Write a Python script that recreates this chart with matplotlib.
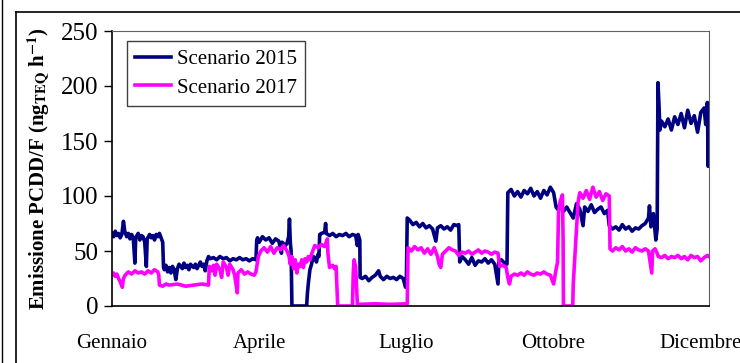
#!/usr/bin/env python3
import matplotlib as mpl
mpl.use("Agg")
import matplotlib.pyplot as plt
from matplotlib.lines import Line2D

mpl.rcParams.update({
    "font.family": "serif",
    "font.serif": ["Liberation Serif", "DejaVu Serif"],
    "mathtext.fontset": "stix",
    "font.size": 15,
})

# Data (day of year, emission ng TEQ/h)
days_2015 = [0, 1, 2, 3, 4, 5, 6, 7, 7.8, 9, 10, 11, 12, 13, 14, 14.5, 16, 17, 18, 19, 20, 21, 21.5,
             23, 24, 25, 26, 27, 28, 29, 30, 31, 31.5,
             32, 33, 34, 35, 36, 37, 38, 39, 40, 41, 42, 43, 44, 45, 46, 47, 48, 49, 50, 51, 52,
             53, 54, 55, 56, 57, 58,
             59, 60, 62, 64, 66, 68, 70, 72, 74, 76, 78, 80, 82, 84, 86, 88, 88.5,
             89, 90, 92, 94, 96, 98, 100, 102, 103.6, 104, 106, 107, 108, 108.5, 109, 109.5, 110,
             119, 119.5, 120, 121, 122, 123, 124, 125, 126, 126.5, 127, 128, 130, 130.6, 131, 133,
             135, 137, 139, 141, 143, 145, 147, 149, 150, 150.5, 151.5, 151.7,
             153, 155, 157, 159, 161, 163, 164, 166, 168, 170, 172, 174, 176, 178, 179.5, 180,
             180.5, 182, 184, 186, 188, 190, 192, 194, 196, 198, 199, 201, 203, 205, 207, 209,
             211, 212, 212.6,
             214, 216, 218, 220, 222, 224, 226, 228, 230, 232, 234, 236, 236.5, 238, 240, 241.5,
             242, 244, 246, 248, 250, 252, 254, 256, 258, 260, 262, 264, 266, 268, 270, 271.5,
             272.4, 274, 276, 278, 280, 282, 284, 286, 288, 289, 291, 293, 295, 297, 299, 301,
             303, 304, 306, 308, 310, 312, 314, 316, 318, 320, 322, 324, 326, 328, 328.6, 329.5,
             331, 332.5, 333.3, 333.8, 334.5, 335, 336, 338, 340, 342, 344, 346, 348, 350, 352,
             354, 356, 358, 360, 362, 363, 364, 364.5, 365]
vals_2015 = [66, 63, 68, 64, 66, 62, 65, 77, 68, 63, 66, 61, 65, 62, 39, 62, 66, 60, 64, 63, 58, 36, 61,
             65, 62, 64, 60, 65, 63, 66, 62, 58, 35,
             33, 37, 31, 35, 30, 36, 33, 24, 34, 38, 36, 34, 39, 35, 37, 33, 38, 36, 35, 38, 34,
             37, 40, 36, 38, 32, 41,
             45, 43, 44, 42, 45, 43, 44, 41, 43, 42, 44, 42, 43, 41, 43, 42, 60,
             62, 58, 63, 60, 62, 57, 61, 59, 48, 58, 55, 57, 63, 79, 58, 50, 0,
             0, 12, 20, 33, 38, 45, 44, 40, 47, 45, 65, 66, 67, 75, 66, 64,
             66, 63, 65, 64, 66, 63, 65, 64, 55, 65, 60, 26,
             25, 27, 23, 26, 28, 32, 27, 24, 27, 25, 26, 24, 27, 25, 17, 26,
             80, 78, 74, 76, 72, 75, 71, 73, 70, 59, 71, 73, 70, 72, 69, 74,
             73, 74, 40,
             45, 42, 38, 44, 37, 41, 40, 43, 39, 42, 38, 20, 40, 42, 39, 38,
             103, 106, 100, 104, 99, 105, 102, 107, 100, 104, 98, 105, 101, 108, 103, 90,
             88, 92, 86, 90, 85, 80, 93, 88, 73, 90, 86, 92, 85, 88, 90, 84,
             87, 73, 70, 72, 69, 74, 70, 72, 68, 71, 70, 73, 75, 80, 91, 72,
             84, 60, 70, 203, 180, 160, 168, 163, 170, 160, 172, 165, 175, 162, 178,
             166, 173, 158, 176, 180, 165, 185, 127, 170]

days_2017 = [0, 1, 2, 3, 4, 5, 6.3, 7, 8, 10, 12, 14, 16, 18, 20, 22, 24, 26, 28, 28.6,
             29, 31, 33, 35, 40, 45, 50, 55, 59,
             59.5, 61, 62, 63, 64, 66, 67, 68, 70, 71, 72, 74, 75, 76.6, 77, 79, 81, 83, 85, 87, 88,
             89.5, 91, 93, 95, 97, 99, 101, 103, 105, 107, 108.3,
             109, 110, 111, 112, 113, 114, 115, 116, 117, 118, 119, 120, 121, 122,
             124, 126, 128, 130, 131.7, 132, 133, 135, 136, 137, 138,
             147, 147.5, 148, 149, 150, 151, 160, 170, 180.5,
             181, 183, 185, 187, 189, 191, 193, 195, 197, 199, 200, 201, 202, 204, 206, 208, 210,
             212, 214, 216, 218, 220, 222, 224, 226, 228, 230, 232, 234, 236,
             237, 239, 241, 242, 243, 244, 246, 248, 250, 252, 254, 256, 258, 260, 262, 264, 266,
             268, 270, 271, 272.4, 273, 274, 275.4, 275.8, 276,
             281.7, 282, 283, 284, 285, 286, 288, 290, 292, 294, 296, 298, 300, 302, 304,
             304.5, 306, 308, 310, 312, 314, 316, 318, 320, 322, 324, 326, 328, 330, 330.5, 332,
             333.3, 334, 336, 338, 340, 342, 344, 346, 348, 350, 352, 354, 356, 358, 360, 362,
             364, 365]
vals_2017 = [28, 30, 27, 29, 25, 22, 17, 25, 28, 31, 29, 32, 30, 31, 29, 32, 30, 33, 31, 28,
             19, 18, 20, 19, 20, 18, 19, 20, 19,
             36, 32, 37, 28, 38, 33, 26, 40, 35, 28, 38, 33, 28, 12, 30, 33, 29, 31, 29, 28, 31,
             45, 50, 53, 49, 54, 48, 53, 51, 55, 50, 45,
             38, 45, 34, 42, 30, 38, 36, 42, 35, 43, 40, 45, 42, 47,
             55, 53, 56, 54, 61, 48, 35, 37, 34, 36, 0,
             0, 30, 42, 35, 2, 1.5, 2, 1.5, 2,
             53, 50, 54, 51, 53, 48, 52, 47, 53, 45, 38, 35, 47, 50, 53, 51, 50,
             46, 49, 48, 50, 47, 49, 51, 48, 50, 49, 47, 49, 48,
             36, 37, 35, 26, 20, 27, 29, 28, 30, 28, 31, 29, 28, 30, 29, 31, 29,
             28, 20, 29, 40, 85, 95, 101, 60, 0,
             0, 20, 45, 70, 95, 103, 98, 105, 97, 108, 99, 104, 96, 102, 100,
             52, 50, 53, 51, 54, 50, 52, 49, 53, 51, 50, 52, 50, 30, 50, 52,
             48, 45, 44, 46, 43, 45, 44, 46, 43, 45, 42, 46, 44, 45, 41, 44,
             46, 45]

month_ticks = [0, 90, 180, 270, 360]
month_labels = ["Gennaio", "Aprile", "Luglio", "Ottobre", "Dicembre"]

W, H = 740, 363
fig = plt.figure(figsize=(W / 100, H / 100), dpi=100)
ax = fig.add_axes([112 / W, 1 - 306 / H, 597 / W, 275 / H])

ax.plot(days_2015, vals_2015, color="#000080", lw=2.6, label="Scenario 2015")
ax.plot(days_2017, vals_2017, color="#FF00FF", lw=2.6, label="Scenario 2017")

ax.set_xlim(0, 365)
ax.set_ylim(0, 250)
ax.set_yticks(range(0, 251, 50))
ax.set_xticks(month_ticks)
ax.set_xticklabels(month_labels)
ax.tick_params(axis="x", length=0, pad=20, labelsize=15)
ax.tick_params(axis="y", direction="out", length=6, width=1, pad=4, labelsize=18)

for side in ("top", "right"):
    ax.spines[side].set_color("#606060")
for side in ("left", "bottom"):
    ax.spines[side].set_color("black")
    ax.spines[side].set_linewidth(1.2)

ax.set_ylabel(r"Emissione PCDD/F (ng$_{\mathbf{TEQ}}$ h$^{\mathbf{-1}}$)",
              fontweight="bold", fontsize=15, labelpad=6)

leg = ax.legend(loc="upper left", bbox_to_anchor=(0.025, 0.964), borderaxespad=0,
                fontsize=15, handlelength=1.7, handletextpad=0.3, labelspacing=0.45,
                borderpad=0.4, fancybox=False, framealpha=1)
leg.get_frame().set_edgecolor("#404040")
leg.get_frame().set_linewidth(1.0)

# outer frame lines of the original figure
fig.add_artist(Line2D([16 / W, 16 / W], [0, 1 - 12 / H], color="black", lw=1.2))
fig.add_artist(Line2D([16 / W, 1], [1 - 12 / H, 1 - 12 / H], color="black", lw=1.2))
fig.add_artist(Line2D([2 / W, 2 / W], [0, 1], color="black", lw=1.0))

fig.savefig("out.png", dpi=100)
